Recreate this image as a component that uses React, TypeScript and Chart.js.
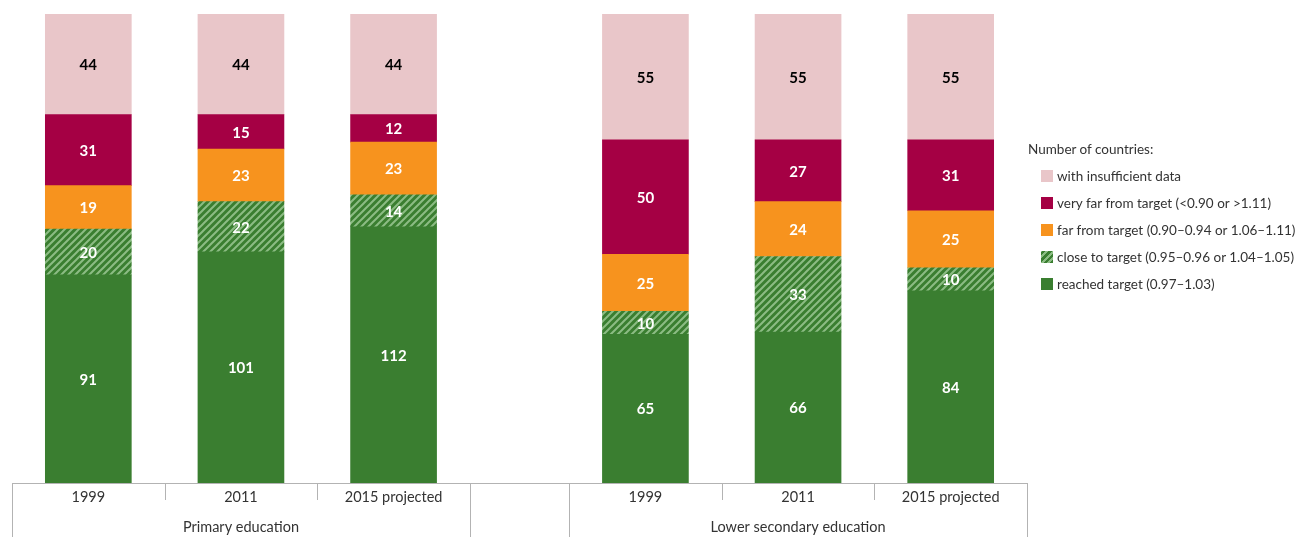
import React, { useEffect, useRef } from "react";
import { Chart, registerables, CategoryScale } from "chart.js";

Chart.register(...registerables);

const categories = ["1999", "2011", "2015 projected", "1999", "2011", "2015 projected"];
const groups = ["Primary education", "Lower secondary education"];
const reached = [91, 101, 112, 65, 66, 84];
const close = [20, 22, 14, 10, 33, 10];
const far = [19, 23, 23, 25, 24, 25];
const veryFar = [31, 15, 12, 50, 27, 31];
const insufficient = [44, 44, 44, 55, 55, 55];

const legendTitle = "Number of countries:";
const seriesNames = [
  "reached target (0.97–1.03)",
  "close to target (0.95–0.96 or 1.04–1.05)",
  "far from target (0.90–0.94 or 1.06–1.11)",
  "very far from target (<0.90 or >1.11)",
  "with insufficient data",
];

const GREEN = "#3a7e30";
const HATCH = "#8cbc84";
const ORANGE = "#f7931e";
const CRIMSON = "#a50044";
const PINK = "#e9c6c9";
const FONT = "Lato, 'Open Sans', sans-serif";
const GROUP_SIZE = 3;
const GAP = 0.65;

class GapCategoryScale extends CategoryScale {
  static id = "gapCategory";
  static defaults = {};
  unitToPixel(u: number) {
    const n = (this as any).getLabels().length;
    return this.left + ((this.right - this.left) * u) / (n + GAP);
  }
  getPixelForValue(value: any) {
    if (typeof value !== "number") value = (this as any).parse(value);
    if (value === null || value === undefined) return NaN;
    const u = value + 0.5 + (value >= GROUP_SIZE ? GAP : 0);
    return this.unitToPixel(u);
  }
}
Chart.register(GapCategoryScale as any);

function makeHatch(): CanvasPattern | string {
  const c = document.createElement("canvas");
  c.width = 7;
  c.height = 7;
  const g = c.getContext("2d");
  if (!g) return GREEN;
  g.fillStyle = GREEN;
  g.fillRect(0, 0, 7, 7);
  g.strokeStyle = HATCH;
  g.lineWidth = 2;
  g.beginPath();
  g.moveTo(-1, 8);
  g.lineTo(8, -1);
  g.moveTo(-4, 4);
  g.lineTo(4, -4);
  g.moveTo(3, 11);
  g.lineTo(11, 3);
  g.stroke();
  return g.createPattern(c, "repeat") || GREEN;
}

const valueLabels = {
  id: "valueLabels",
  afterDatasetsDraw(chart: any) {
    const ctx = chart.ctx;
    ctx.save();
    ctx.font = `bold 15px ${FONT}`;
    ctx.textAlign = "center";
    ctx.textBaseline = "middle";
    chart.data.datasets.forEach((ds: any, di: number) => {
      const meta = chart.getDatasetMeta(di);
      meta.data.forEach((bar: any, i: number) => {
        const v = ds.data[i];
        const y = (bar.y + bar.base) / 2;
        ctx.fillStyle = ds.labelColor;
        ctx.fillText(String(v), bar.x, y + 1);
      });
    });
    ctx.restore();
  },
};

const axisFrame = {
  id: "axisFrame",
  afterDraw(chart: any) {
    const ctx = chart.ctx;
    const x = chart.scales.x as any;
    const top = chart.chartArea.bottom;
    const bottom = chart.height;
    const n = categories.length;
    ctx.save();
    ctx.strokeStyle = "#b3b3b3";
    ctx.lineWidth = 1;
    ctx.beginPath();
    ctx.moveTo(Math.round(x.unitToPixel(0)), top + 0.5);
    ctx.lineTo(Math.round(x.unitToPixel(n + GAP)) + 1, top + 0.5);
    const bounds: [number, boolean][] = [];
    for (let i = 0; i <= GROUP_SIZE; i++) bounds.push([i, i === 0 || i === GROUP_SIZE]);
    for (let i = GROUP_SIZE; i <= n; i++) bounds.push([i + GAP, i === GROUP_SIZE || i === n]);
    bounds.forEach(([u, full]) => {
      const px = Math.round(x.unitToPixel(u)) + 0.5;
      ctx.moveTo(px, top);
      ctx.lineTo(px, full ? bottom : top + 17);
    });
    ctx.stroke();
    ctx.fillStyle = "#333";
    ctx.font = `14.5px ${FONT}`;
    ctx.textAlign = "center";
    ctx.textBaseline = "middle";
    ctx.fillText(groups[0], x.unitToPixel(GROUP_SIZE / 2), top + 44);
    ctx.fillText(groups[1], x.unitToPixel(GROUP_SIZE + GAP + (n - GROUP_SIZE) / 2), top + 44);
    ctx.restore();
  },
};

export default function App() {
  const ref = useRef<HTMLCanvasElement>(null);
  useEffect(() => {
    if (!ref.current) return;
    const hatch = makeHatch();
    const chart = new Chart(ref.current, {
      type: "bar",
      data: {
        labels: categories,
        datasets: [
          { label: seriesNames[0], data: reached, backgroundColor: GREEN, labelColor: "#fff" } as any,
          { label: seriesNames[1], data: close, backgroundColor: hatch, labelColor: "#fff" } as any,
          { label: seriesNames[2], data: far, backgroundColor: ORANGE, labelColor: "#fff" } as any,
          { label: seriesNames[3], data: veryFar, backgroundColor: CRIMSON, labelColor: "#fff" } as any,
          { label: seriesNames[4], data: insufficient, backgroundColor: PINK, labelColor: "#000" } as any,
        ],
      },
      options: {
        animation: false,
        responsive: false,
        devicePixelRatio: 1,
        layout: { padding: { left: 12, right: 278, top: 14, bottom: 0 } },
        datasets: { bar: { barThickness: 86, borderWidth: 0 } },
        plugins: { legend: { display: false }, tooltip: { enabled: false } },
        scales: {
          x: {
            type: "gapCategory" as any,
            stacked: true,
            offset: true,
            grid: { display: false },
            border: { display: false },
            ticks: { color: "#333", font: { family: FONT, size: 14.5 }, padding: -2, maxRotation: 0, autoSkip: false },
            afterFit: (s: any) => {
              s.height = 54;
            },
          } as any,
          y: { stacked: true, display: false, min: 0, max: 205 },
        },
      },
      plugins: [valueLabels, axisFrame],
    });
    return () => chart.destroy();
  }, []);

  const swatch = (bg: string) => ({
    display: "inline-block",
    width: 12,
    height: 12,
    background: bg,
    marginRight: 4,
    verticalAlign: "-1px",
  });
  const legendItems = [
    { text: seriesNames[4], bg: PINK },
    { text: seriesNames[3], bg: CRIMSON },
    { text: seriesNames[2], bg: ORANGE },
    {
      text: seriesNames[1],
      bg: `repeating-linear-gradient(-45deg, ${GREEN} 0px, ${GREEN} 2.5px, ${HATCH} 2.5px, ${HATCH} 4.5px)`,
    },
    { text: seriesNames[0], bg: GREEN },
  ];

  return (
    <div style={{ position: "fixed", left: 0, top: 0, width: 1305, height: 537, background: "#fff" }}>
      <canvas ref={ref} width={1305} height={537} style={{ width: 1305, height: 537, display: "block" }} />
      <div
        style={{
          position: "absolute",
          left: 1028,
          top: 136,
          fontFamily: FONT,
          fontSize: 13.5,
          color: "#333",
          lineHeight: "27px",
          whiteSpace: "nowrap",
        }}
      >
        <div>{legendTitle}</div>
        {legendItems.map((it) => (
          <div key={it.text} style={{ paddingLeft: 13 }}>
            <span style={swatch(it.bg)} />
            {it.text}
          </div>
        ))}
      </div>
    </div>
  );
}
